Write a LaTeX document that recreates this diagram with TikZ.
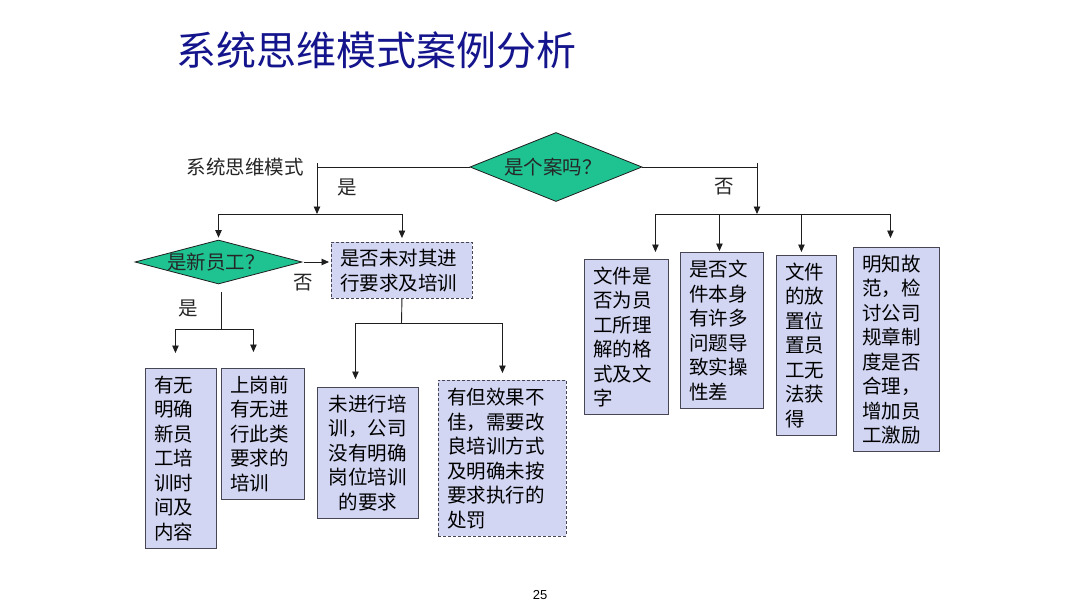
\documentclass[tikz,border=0pt]{standalone}
\usepackage{fontspec}
\newfontfamily\cjk{Noto Sans CJK SC}
\newfontfamily\numfont{Liberation Sans}
\usetikzlibrary{arrows.meta,shapes.geometric}
\definecolor{navy}{RGB}{20,20,140}
\definecolor{dgreen}{RGB}{30,195,145}
\definecolor{cardfill}{RGB}{210,214,242}
\definecolor{cardline}{RGB}{70,70,85}
\definecolor{linec}{RGB}{30,30,30}
\begin{document}
\begin{tikzpicture}[x=1pt,y=-1pt,
  conn/.style={draw=linec, line width=0.9pt},
  arr/.style={conn, -{Triangle[length=7.5pt,width=6.5pt]}},
  card/.style={draw=cardline, fill=cardfill, line width=0.9pt, inner xsep=9pt, inner ysep=0pt,
    anchor=north west, align=left, font=\cjk\fontsize{19.5}{24.5}\selectfont},
  dcard/.style={card, dash pattern=on 3pt off 2pt},
  dia/.style={shape=diamond, draw=linec, fill=dgreen, line width=0.8pt, inner sep=0pt},
  lbl/.style={font=\cjk\fontsize{19.5}{24}\selectfont, inner sep=0pt, text=black!85}]

\useasboundingbox[fill=white] (0,0) rectangle (1080,608);

% title and page number
\node[font=\cjk\fontsize{40}{42}\selectfont, text=navy, inner sep=0pt] (title) at (376.5,50) {系统思维模式案例分析};
\node[font=\numfont\fontsize{13}{14}\selectfont, inner sep=0pt] (page) at (540,595) {25};

% diamonds
\node[dia, minimum width=172pt, minimum height=69pt] (d1) at (556,167) {};
\node[lbl] (d1t) at (553,167) {是个案吗？};
\node[dia, minimum width=167pt, minimum height=44pt] (d2) at (218.5,262) {};
\node[lbl] (d2t) at (216,262) {是新员工？};

\node[lbl] (sys) at (245,167) {系统思维模式};
\node[lbl] (yes1) at (347,187) {是};
\node[lbl] (no1) at (724,187) {否};
\node[lbl] (no2) at (303,283) {否};
\node[lbl] (yes2) at (188,308) {是};

% boxes
\node[dcard, text width=123pt, minimum height=56pt] (b0) at (331,242) {是否未对其进\\行要求及培训};
\node[card, text width=53pt, minimum height=180pt] (l1) at (145,368) {有无\\明确\\新员\\工培\\训时\\间及\\内容};
\node[card, text width=65pt, minimum height=131pt] (l2) at (221,368) {上岗前\\有无进\\行此类\\要求的\\培训};
\node[card, align=center, text width=83pt, minimum height=131pt] (m1) at (317,387) {未进行培\\训，公司\\没有明确\\岗位培训\\的要求};
\node[dcard, text width=110pt, minimum height=156pt] (m2) at (438,380) {有但效果不\\佳，需要改\\良培训方式\\及明确未按\\要求执行的\\处罚};
\node[card, text width=66pt, minimum height=155pt] (r1) at (584,259) {文件是\\否为员\\工所理\\解的格\\式及文\\字};
\node[card, text width=65pt, minimum height=156pt] (r2) at (680,252) {是否文\\件本身\\有许多\\问题导\\致实操\\性差};
\node[card, text width=42pt, minimum height=180pt] (r3) at (776,255) {文件\\的放\\置位\\置员\\工无\\法获\\得};
\node[card, text width=68pt, minimum height=204pt] (r4) at (853,247) {明知故\\范，检\\讨公司\\规章制\\度是否\\合理，\\增加员\\工激励};

% junctions
\coordinate (j0top) at (317,163);
\coordinate (j0) at (317,214);
\coordinate (j1) at (221,329);
\coordinate (j2) at (401.5,323);
\coordinate (k0top) at (757,163);
\coordinate (k0) at (757,214);

% left branch
\draw[conn] (d1.west) -- (d1.west -| j0top);
\draw[arr] (j0top) -- (j0);
\draw[arr, shorten >=2pt] (j0) -| (d2.north);
\draw[arr, shorten >=4pt] (j0) -| (b0.north);
\draw[arr, shorten <=2pt, shorten >=2pt] (d2.east) -- (d2.east -| b0.west);
\draw[conn, shorten <=8pt] (d2.south -| j1) -- (j1);
\draw[arr, shorten >=15pt] (j1) -| ([xshift=-5.5pt]l1.north);
\draw[arr, shorten >=16pt] (j1) -| ([xshift=-9.5pt]l2.north);
\draw[conn] (b0.south) -- (j2);
\draw[arr, shorten >=8pt] (j2) -| ([xshift=-12.5pt]m1.north);
\draw[arr, shorten >=7pt] (j2) -| (m2.north);

% right branch
\draw[conn] (d1.east) -- (d1.east -| k0top);
\draw[arr] (k0top) -- (k0);
\draw[arr, shorten >=7pt] (k0) -| ([xshift=29pt]r1.north);
\draw[arr, shorten >=1pt] (k0) -| ([xshift=-2.5pt]r2.north);
\draw[arr, shorten >=3pt] (k0) -| ([xshift=-5pt]r3.north);
\draw[arr, shorten >=9pt] (k0) -| ([xshift=-6pt]r4.north);
\end{tikzpicture}
\end{document}
